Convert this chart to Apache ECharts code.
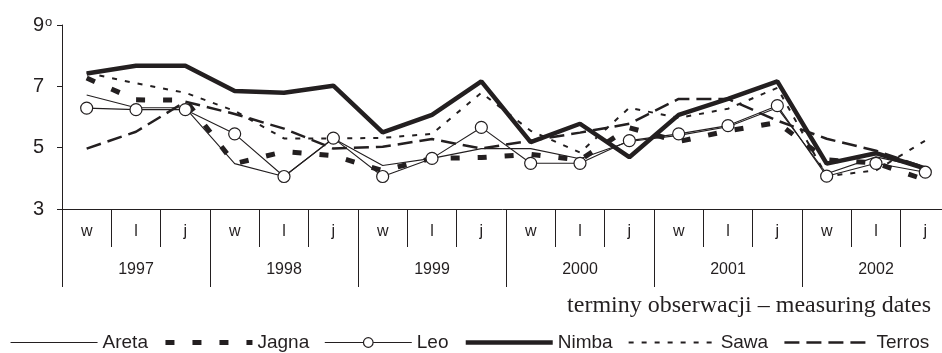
<!DOCTYPE html>
<html>
<head>
<meta charset="utf-8">
<script src="https://cdn.jsdelivr.net/npm/echarts@6/dist/echarts.min.js"></script>
<style>
html,body{margin:0;padding:0;background:#fff;}
#chart{width:942px;height:353px;}
</style>
</head>
<body>
<div id="chart"></div>
<script>
// ---- data ----
const categories = ['w','l','j','w','l','j','w','l','j','w','l','j','w','l','j','w','l','j'];
const years = ['1997','1998','1999','2000','2001','2002'];
const yTicks = [3, 5, 7, 9];

const areta = [6.72, 6.30, 6.30, 4.48, 4.06, 5.30, 4.42, 4.65, 4.97, 4.97, 4.64, 5.20, 5.40, 5.68, 6.30, 4.15, 4.70, 4.35];
const jagna = [7.27, 6.56, 6.55, 4.48, 4.87, 4.74, 4.25, 4.65, 4.68, 4.78, 4.60, 5.65, 5.20, 5.55, 5.82, 4.60, 4.50, 3.95];
const leo   = [6.29, 6.24, 6.24, 5.45, 4.06, 5.31, 4.06, 4.65, 5.66, 4.49, 4.49, 5.23, 5.45, 5.72, 6.37, 4.07, 4.49, 4.20];
const nimba = [7.42, 7.67, 7.67, 6.85, 6.79, 7.02, 5.50, 6.07, 7.16, 5.18, 5.78, 4.69, 6.07, 6.59, 7.16, 4.48, 4.82, 4.32];
const sawa  = [7.44, 7.10, 6.79, 6.20, 5.30, 5.30, 5.32, 5.45, 6.79, 5.55, 4.84, 6.30, 5.97, 6.27, 6.95, 4.07, 4.26, 5.23];
const terros= [4.97, 5.52, 6.50, 6.10, 5.62, 4.97, 5.03, 5.28, 4.97, 5.23, 5.49, 5.78, 6.59, 6.59, 5.88, 5.29, 4.90, 4.35];

const xTitle = 'terminy obserwacji – measuring dates';

// ---- chart ----
const INK = '#231f20';
const SANS = '"Liberation Sans", Arial, sans-serif';
const chart = echarts.init(document.getElementById('chart'), null, {renderer: 'canvas'});

const styles = {
  Areta:  {width: 1.1},
  Jagna:  {width: 5, type: [9, 18]},
  Leo:    {width: 1.1},
  Nimba:  {width: 4.5},
  Sawa:   {width: 2, type: [5, 8]},
  Terros: {width: 2.5, type: [15, 7]}
};

function lineSeries(name, data, extra) {
  return Object.assign({
    name: name, type: 'line', data: data, xAxisIndex: 0, yAxisIndex: 0,
    symbol: 'none', showSymbol: false, silent: true, animation: false,
    lineStyle: Object.assign({color: INK}, styles[name]),
    itemStyle: {color: 'rgba(0,0,0,0)'}
  }, extra || {});
}

const legendNames = ['Areta','Jagna','Leo','Nimba','Sawa','Terros'];

const option = {
  animation: false,
  backgroundColor: '#fff',
  textStyle: {fontFamily: SANS, color: INK},
  grid: {left: 62, width: 888, top: 25, bottom: 144, containLabel: false, outerBoundsMode: 'none'},
  title: {
    text: xTitle, right: 6, top: 289,
    textStyle: {fontFamily: '"Liberation Serif", "Times New Roman", serif', fontSize: 24, fontWeight: 'normal', color: INK}
  },
  legend: {
    left: 5, top: 328, width: 937, itemWidth: 87, itemHeight: 12, itemGap: 15,
    textStyle: {fontSize: 19, color: INK, fontFamily: SANS},
    data: legendNames.map(n => ({
      name: n,
      itemStyle: n === 'Leo' ? {color: '#fff', borderColor: INK, borderWidth: 1.2, opacity: 1} : {opacity: 0},
      lineStyle: Object.assign({color: INK}, styles[n])
    }))
  },
  xAxis: [
    {
      type: 'category', data: categories, position: 'bottom', boundaryGap: true,
      axisLine: {show: true, onZero: false, lineStyle: {color: INK, width: 1}},
      axisTick: {show: true, interval: 0, length: 38, lineStyle: {color: INK, width: 1}},
      axisLabel: {interval: 0, margin: 15, fontSize: 16, color: INK},
      splitLine: {show: false}
    },
    {
      type: 'category', data: years, position: 'bottom', boundaryGap: true, offset: 0,
      axisLine: {show: false, onZero: false},
      axisTick: {show: true, interval: 0, length: 78, lineStyle: {color: INK, width: 1}},
      axisLabel: {interval: 0, margin: 53, fontSize: 16, color: INK},
      splitLine: {show: false}
    }
  ],
  yAxis: {
    type: 'value', min: yTicks[0], max: yTicks[yTicks.length - 1], interval: 2,
    axisLine: {show: true, lineStyle: {color: INK, width: 1}},
    axisTick: {show: true, length: 5, inside: false, lineStyle: {color: INK, width: 1}},
    axisLabel: {margin: 18, fontSize: 20, color: INK},
    splitLine: {show: false}
  },
  series: [
    lineSeries('Areta', areta),
    lineSeries('Jagna', jagna),
    lineSeries('Leo', leo, {
      symbol: 'circle', showSymbol: true, symbolSize: 12,
      itemStyle: {color: '#fff', borderColor: INK, borderWidth: 1.2}
    }),
    lineSeries('Nimba', nimba),
    lineSeries('Sawa', sawa),
    lineSeries('Terros', terros)
  ]
};
chart.setOption(option);

// superscript "o" after the top tick label
const y9 = chart.convertToPixel({yAxisIndex: 0}, yTicks[yTicks.length - 1]);
const axisX = chart.convertToPixel({xAxisIndex: 0}, 0) - 888 / 36;
chart.setOption({
  graphic: [{
    type: 'text', silent: true,
    x: axisX - 17, y: y9 - 9,
    style: {text: 'o', fontSize: 13, fontFamily: SANS, fill: INK}
  }]
});
</script>
</body>
</html>
